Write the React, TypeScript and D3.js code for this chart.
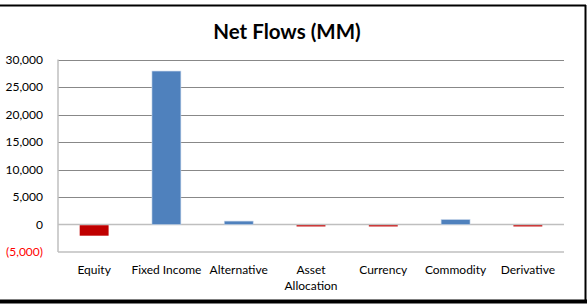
import * as d3 from 'd3'

// chart data
const categories = ['Equity', 'Fixed Income', 'Alternative', 'Asset Allocation', 'Currency', 'Commodity', 'Derivative']
const categoryLines = [['Equity'], ['Fixed Income'], ['Alternative'], ['Asset', 'Allocation'], ['Currency'], ['Commodity'], ['Derivative']]
const netFlows = [-1900, 27900, 620, -40, -30, 900, -40]
const yTicks = [-5000, 0, 5000, 10000, 15000, 20000, 25000, 30000]

const W = 588
const H = 304
const font = 'Lato, "Open Sans", sans-serif'

const fmt = (v: number) => {
  const s = d3.format(',')(Math.abs(v))
  return v < 0 ? `(${s})` : s
}

export default function App() {
  const plot = { left: 58, right: 564, top: 59.5, bottom: 252 }

  const x = d3.scaleBand<string>()
    .domain(categories)
    .range([plot.left, plot.right])
    .paddingInner(0.6)
    .paddingOuter(0.3)

  const y = d3.scaleLinear()
    .domain([-5000, 30000])
    .range([plot.bottom, plot.top])

  const y0 = y(0)

  return (
    <svg width={W} height={H} style={{ position: 'absolute', left: 0, top: 0, display: 'block', background: '#fff' }}>
      {/* frame */}
      <line x1={0} x2={586} y1={5.5} y2={5.5} stroke="#000" strokeWidth={2} />
      <line x1={585.5} x2={585.5} y1={5} y2={302} stroke="#000" strokeWidth={2} />
      <line x1={0} x2={587} y1={301.5} y2={301.5} stroke="#000" strokeWidth={4} />

      <text x={287} y={39} textAnchor="middle" fontFamily={font} fontWeight={700} fontSize={20.5} fill="#000">
        Net Flows (MM)
      </text>

      {/* gridlines */}
      {yTicks.filter(t => t > 0).map(t => (
        <line key={t} x1={plot.left} x2={plot.right} y1={Math.round(y(t)) + 0.5} y2={Math.round(y(t)) + 0.5} stroke="#888" strokeWidth={1} />
      ))}
      <line x1={plot.left} x2={plot.right} y1={plot.bottom} y2={plot.bottom} stroke="#bfbfbf" strokeWidth={1.5} />

      {/* zero line and y axis */}
      <line x1={plot.left} x2={plot.right} y1={y0} y2={y0} stroke="#bfbfbf" strokeWidth={1.5} />
      <line x1={plot.left} x2={plot.left} y1={plot.top} y2={plot.bottom} stroke="#bfbfbf" strokeWidth={1.5} />

      {/* bars */}
      {categories.map((c, i) => {
        const v = netFlows[i]
        const y1 = y(v)
        const neg = v < 0
        const h = Math.max(Math.abs(y1 - y0), 1.2)
        return (
          <rect
            key={c}
            x={x(c)}
            y={neg ? y0 + 0.75 : y0 - h}
            width={x.bandwidth()}
            height={h}
            fill={neg ? '#c00000' : '#4f81bd'}
            stroke={neg ? 'none' : '#c6d5ea'}
            strokeWidth={0.6}
          />
        )
      })}

      {/* y tick labels */}
      {yTicks.map(t => (
        <text key={t} x={43} y={y(t)} dy="0.35em" textAnchor="end" fontFamily={font} fontSize={12} fill={t < 0 ? '#ff0000' : '#000'}>
          {fmt(t)}
        </text>
      ))}

      {/* category labels */}
      {categories.map((c, i) => (
        <text key={c} x={(x(c) ?? 0) + x.bandwidth() / 2} y={270} textAnchor="middle" fontFamily={font} fontSize={12} fill="#000">
          {categoryLines[i].map((ln, j) => (
            <tspan key={j} x={(x(c) ?? 0) + x.bandwidth() / 2} dy={j === 0 ? '0.35em' : 16}>{ln}</tspan>
          ))}
        </text>
      ))}
    </svg>
  )
}
